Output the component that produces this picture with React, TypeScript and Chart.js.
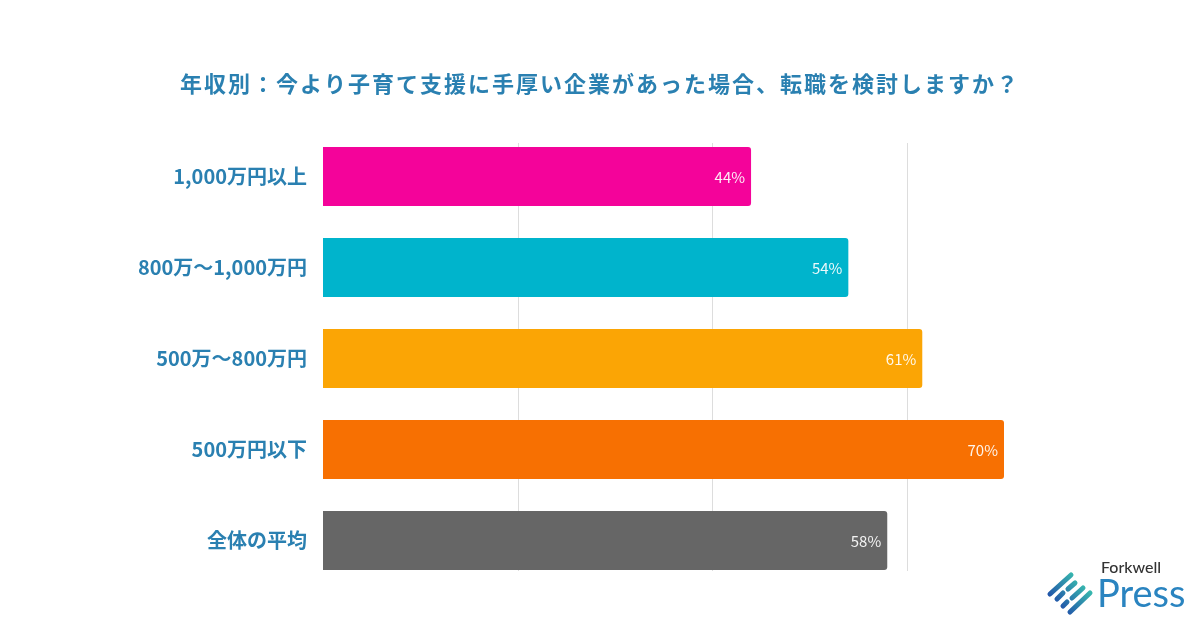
import React, { useEffect, useRef } from "react";
import { Chart, registerables } from "chart.js";

Chart.register(...registerables);

const categories = ["1,000万円以上", "800万～1,000万円", "500万～800万円", "500万円以下", "全体の平均"];
const values = [44, 54, 61.6, 70, 58];
const valueLabels = ["44%", "54%", "61%", "70%", "58%"];
const barColors = ["#f4039a", "#00b4cc", "#fba505", "#f77002", "#666666"];
const gridValues = [20, 40, 60];
const titleText = "年収別：今より子育て支援に手厚い企業があった場合、転職を検討しますか？";

const FONT = "'Noto Sans CJK JP', 'Noto Sans', sans-serif";
const BLUE = "#2a80b1";

const overlayPlugin = {
  id: "overlay",
  beforeDatasetsDraw(chart: any) {
    const ctx = chart.ctx;
    const x = chart.scales.x;
    ctx.save();
    ctx.strokeStyle = "#dddddd";
    ctx.lineWidth = 1;
    gridValues.forEach((v) => {
      const px = Math.round(x.getPixelForValue(v)) + 0.5;
      ctx.beginPath();
      ctx.moveTo(px, 143);
      ctx.lineTo(px, 571);
      ctx.stroke();
    });
    ctx.restore();
  },
  afterDatasetsDraw(chart: any) {
    const ctx = chart.ctx;
    const meta = chart.getDatasetMeta(0);
    ctx.save();
    ctx.font = `400 15px ${FONT}`;
    ctx.fillStyle = "rgba(255,255,255,0.92)";
    ctx.textAlign = "right";
    ctx.textBaseline = "middle";
    meta.data.forEach((bar: any, i: number) => {
      ctx.fillText(valueLabels[i], bar.x - 6, bar.y + 1);
    });
    ctx.font = `700 22px ${FONT}`;
    ctx.fillStyle = BLUE;
    ctx.textAlign = "center";
    (ctx as any).letterSpacing = "2px";
    ctx.fillText(titleText, 600, 84);
    ctx.restore();
  },
};

export default function App() {
  const ref = useRef<HTMLCanvasElement>(null);
  useEffect(() => {
    if (!ref.current) return;
    const chart = new Chart(ref.current, {
      type: "bar",
      data: {
        labels: categories,
        datasets: [
          {
            data: values,
            backgroundColor: barColors,
            borderRadius: { topRight: 3, bottomRight: 3, topLeft: 0, bottomLeft: 0 },
            borderSkipped: false,
            categoryPercentage: 1,
            barPercentage: 0.648,
          },
        ],
      },
      options: {
        indexAxis: "y",
        animation: false,
        responsive: false,
        maintainAspectRatio: false,
        layout: { padding: { left: 0, top: 131, bottom: 44, right: 196 } },
        plugins: { legend: { display: false }, tooltip: { enabled: false }, title: { display: false } },
        scales: {
          x: { min: 0, max: 70, display: false },
          y: {
            grid: { display: false, drawTicks: false },
            border: { display: false },
            ticks: { color: BLUE, padding: 16, font: { family: FONT, size: 20, weight: "bold" } },
            afterFit: (scale: any) => {
              scale.width = 323;
            },
          },
        },
      },
      plugins: [overlayPlugin],
    } as any);
    return () => chart.destroy();
  }, []);

  return (
    <div style={{ position: "fixed", left: 0, top: 0, width: 1200, height: 630, background: "#fff" }}>
      <canvas ref={ref} width={1200} height={630} style={{ position: "absolute", left: 0, top: 0 }} />
      <svg width={160} height={100} style={{ position: "absolute", left: 1040, top: 525 }} viewBox="0 0 160 100">
        <defs>
          <linearGradient id="lg" gradientUnits="userSpaceOnUse" x1="10" y1="88" x2="50" y2="50">
            <stop offset="0" stopColor="#1a34a8" />
            <stop offset="1" stopColor="#3fd8b0" />
          </linearGradient>
        </defs>
        <text x={61} y={48} fontFamily="Lato, 'Noto Sans', sans-serif" fontSize={16} fontWeight={500} fill="#333">Forkwell</text>
        <text x={57} y={82} fontFamily="Lato, 'Noto Sans', sans-serif" fontSize={38} fontWeight={400} fill="#2a84c0">Press</text>
        <g stroke="url(#lg)" strokeWidth={5} strokeLinecap="round">
          <line x1={10} y1={69} x2={31} y2={50} />
          <line x1={17} y1={74} x2={23} y2={68} />
          <line x1={28} y1={64} x2={35} y2={58} />
          <line x1={23} y1={81} x2={27} y2={77} />
          <line x1={32} y1={73} x2={43} y2={63} />
          <line x1={30} y1={87} x2={50} y2={68} />
        </g>
      </svg>
    </div>
  );
}
